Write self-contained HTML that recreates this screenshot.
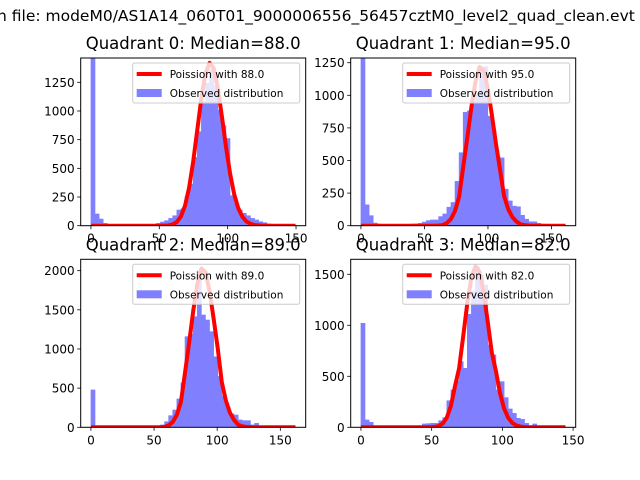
<!DOCTYPE html>
<html><head><meta charset="utf-8"><style>
html,body{margin:0;padding:0;background:#fff;}
svg{display:block;font-family:"DejaVu Sans","Liberation Sans",sans-serif;}
</style></head><body>
<svg id="chart" width="640" height="480" viewBox="0 0 640 480">
<text x="-3" y="21" font-size="15.5" fill="#000">n file: modeM0/AS1A14_060T01_9000006556_56457cztM0_level2_quad_clean.evt</text>
</svg>
<script>
const titles = ["Quadrant 0: Median=88.0","Quadrant 1: Median=95.0","Quadrant 2: Median=89.0","Quadrant 3: Median=82.0"];
const medians = [88.0, 95.0, 89.0, 82.0];
const dataMax = [149.6, 161, 162, 144.6];
const yMaxLim = [1462, 1286, 2145, 1647];
const yTicks = [[0,250,500,750,1000,1250],[0,250,500,750,1000,1250],[0,500,1000,1500,2000],[0,500,1000,1500]];
const xTicks = [0,50,100,150];
const poissonPeak = [1420, 1230, 2050, 1580];
const counts0 = [1462,102,58,20,12,10,10,10,10,8,8,8,8,10,10,12,20,32,44,64,87,137,148,253,364,596,820,1082,1242,1364,1219,1009,870,760,262,195,137,108,87,64,50,35,26,15,12,10,8,6,5,5];
const counts1 = [1290,160,77,20,12,10,10,10,8,8,10,10,12,14,18,28,39,44,44,70,90,142,178,340,560,870,880,950,1000,1200,1220,840,730,530,520,280,190,150,145,80,50,30,30,18,12,10,8,8,6,5];
const counts2 = [477,4,3,2,2,2,2,2,2,2,2,3,3,4,5,8,15,30,72,149,221,362,566,1157,1187,1413,2000,1434,1370,1221,900,650,400,260,170,157,94,85,85,30,51,10,8,5,5,3,3,2,2,2];
const counts3 = [1020,72,49,10,8,8,8,8,8,8,8,10,10,12,16,33,36,39,39,65,95,261,366,454,644,578,1108,1330,1575,1493,1395,807,709,366,448,291,180,137,88,78,39,16,33,10,8,6,5,4,3,3];
const allCounts = [counts0, counts1, counts2, counts3];
const boxes = [
  {l:80.7,r:305.7,t:58,b:225.7},
  {l:350.7,r:575.7,t:58,b:225.7},
  {l:80.7,r:305.7,t:259.3,b:427.3},
  {l:350.7,r:575.7,t:259.3,b:427.3}
];
const NS = "http://www.w3.org/2000/svg";
const svg = document.getElementById('chart');
function mk(tag, attrs, parent){
  const e = document.createElementNS(NS, tag);
  for (const k in attrs) e.setAttribute(k, attrs[k]);
  (parent||svg).appendChild(e);
  return e;
}
function logFact(n){ let s=0; for(let i=2;i<=n;i++) s+=Math.log(i); return s; }
function logPmf(k, mu){ return k*Math.log(mu) - mu - logFact(k); }

for (let q=0; q<4; q++){
  const bx = boxes[q];
  const counts = allCounts[q];
  const xmin = -0.05*dataMax[q], xmax = 1.05*dataMax[q];
  const xs = v => bx.l + (v - xmin)/(xmax - xmin)*(bx.r - bx.l);
  const ys = v => bx.b - v/yMaxLim[q]*(bx.b - bx.t);
  const g = mk('g', {});
  
  
  const clipId = 'clip' + q;
  const cp = mk('clipPath', {id: clipId}, g);
  mk('rect', {x: bx.l, y: bx.t, width: bx.r-bx.l, height: bx.b-bx.t}, cp);
  const plot = mk('g', {'clip-path': 'url(#' + clipId + ')'}, g);
  const bw = dataMax[q] / counts.length;
  counts.forEach((c, i) => {
    const x0 = xs(i*bw), x1 = xs((i+1)*bw);
    const r = mk('rect', {x: x0, y: ys(c), width: x1-x0, height: ys(0)-ys(c), fill: '#8080ff', stroke: '#8080ff', 'stroke-width': 0.6}, plot);
    
    
  });
  const mu = medians[q];
  const peakLog = logPmf(Math.floor(mu), mu);
  let pts = [];
  for (let i=0; i<=counts.length; i++){
    const xv = i*bw;
    const k = Math.round(xv);
    const y = poissonPeak[q] * Math.exp(logPmf(k, mu) - peakLog);
    pts.push(xs(xv).toFixed(2) + ',' + ys(y).toFixed(2));
  }
  const pl = mk('polyline', {points: pts.join(' '), fill: 'none', stroke: '#ff0000', 'stroke-width': 4, 'stroke-linejoin': 'round'}, plot);
  
  
  const fr = mk('rect', {x: bx.l, y: bx.t, width: bx.r-bx.l, height: bx.b-bx.t, fill: 'none', stroke: '#000', 'stroke-width': 1}, g);
  
  
  xTicks.forEach(t => {
    if (t > xmax) return;
    const x = xs(t);
    mk('line', {x1: x, x2: x, y1: bx.b, y2: bx.b+3.5, stroke: '#000', 'stroke-width': 0.8}, g);
    const tx = mk('text', {x: x, y: bx.b+17, 'font-size': 12, 'text-anchor': 'middle'}, g);
    tx.textContent = t;
    
    
  });
  yTicks[q].forEach(t => {
    const y = ys(t);
    mk('line', {x1: bx.l-3.5, x2: bx.l, y1: y, y2: y, stroke: '#000', 'stroke-width': 0.8}, g);
    const ty = mk('text', {x: bx.l-6, y: y+4.5, 'font-size': 12, 'text-anchor': 'end'}, g);
    ty.textContent = t;
    
    
  });
  const tt = mk('text', {x: (bx.l+bx.r)/2, y: bx.t-9, 'font-size': 16.5, 'text-anchor': 'middle'}, g);
  tt.textContent = titles[q];
  
  
  const lg = mk('g', {}, g);
  
  
  const lx = bx.r - 173, ly = bx.t + 5;
  mk('rect', {x: lx, y: ly, width: 167, height: 40, fill: '#fff', 'fill-opacity': 0.8, stroke: '#ccc', 'stroke-width': 1, rx: 2}, lg);
  mk('line', {x1: lx+4, x2: lx+29, y1: ly+11, y2: ly+11, stroke: '#ff0000', 'stroke-width': 4}, lg);
  const l1 = mk('text', {x: lx+37, y: ly+15, 'font-size': 10.5}, lg);
  l1.textContent = 'Poission with ' + medians[q].toFixed(1);
  
  
  mk('rect', {x: lx+4, y: ly+26, width: 25, height: 8, fill: '#8080ff'}, lg);
  const l2 = mk('text', {x: lx+37, y: ly+34, 'font-size': 10.5}, lg);
  l2.textContent = 'Observed distribution';
  
  
}
</script>
</body></html>
